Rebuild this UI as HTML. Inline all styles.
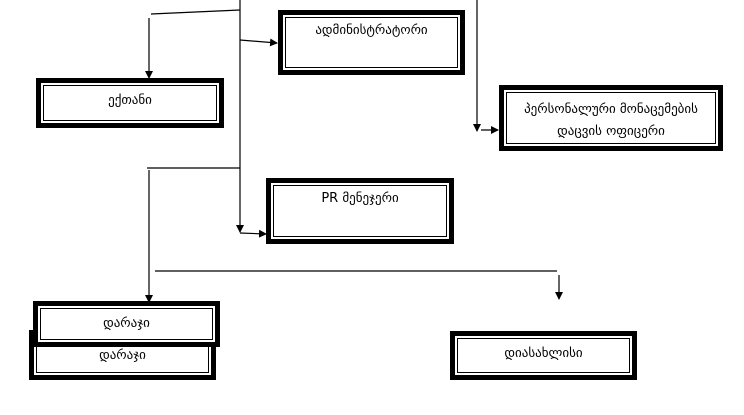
<!DOCTYPE html>
<html><head><meta charset="utf-8"><style>
body{margin:0;width:744px;height:415px;background:#fff;position:relative;overflow:hidden;font-family:"DejaVu Sans","Liberation Sans",sans-serif;}
.b{position:absolute;box-sizing:border-box;border:5px solid #000;background:#fff;}
.b>div{position:absolute;left:2px;top:2px;right:2px;bottom:2px;border:1px solid #000;font-size:13px;text-align:center;color:#000;line-height:20px;}
svg{position:absolute;left:0;top:0;}
</style></head><body>
<svg width="744" height="415">
<defs><marker id="a" markerWidth="8" markerHeight="8" refX="7" refY="4" orient="auto" markerUnits="userSpaceOnUse"><path d="M0,0L8,4L0,8z" fill="#000"/></marker></defs>
<g stroke="#000" stroke-width="1.2" fill="none">
<path d="M240,0V232" marker-end="url(#a)"/>
<path d="M151,14L240,10"/>
<path d="M149,18V78" marker-end="url(#a)"/>
<path d="M240,40L277,43" marker-end="url(#a)"/>
<path d="M147,168H240"/>
<path d="M149,170V302" marker-end="url(#a)"/>
<path d="M240,233L266,234" marker-end="url(#a)"/>
<path d="M155,271H557"/>
<path d="M559,275V299" marker-end="url(#a)"/>
<path d="M477,0V131" marker-end="url(#a)"/>
<path d="M481,130H498" marker-end="url(#a)"/>
</g></svg>
<div class="b" style="left:278px;top:10px;width:187px;height:65px"><div style="padding-top:3px">ადმინისტრატორი</div></div>
<div class="b" style="left:36px;top:78px;width:188px;height:50px"><div style="line-height:30px">ექთანი</div></div>
<div class="b" style="left:499px;top:85px;width:224px;height:66px"><div style="padding-top:6px;line-height:22px">პერსონალური მონაცემების<br>დაცვის ოფიცერი</div></div>
<div class="b" style="left:266px;top:178px;width:188px;height:66px"><div style="padding-top:3px">PR მენეჯერი</div></div>
<div class="b" style="left:29px;top:330px;width:187px;height:50px"><div style="line-height:20px;padding-top:8px">დარაჯი</div></div>
<div class="b" style="left:33px;top:301px;width:187px;height:46px"><div style="line-height:30px">დარაჯი</div></div>
<div class="b" style="left:450px;top:331px;width:187px;height:49px"><div style="line-height:30px">დიასახლისი</div></div>
</body></html>
